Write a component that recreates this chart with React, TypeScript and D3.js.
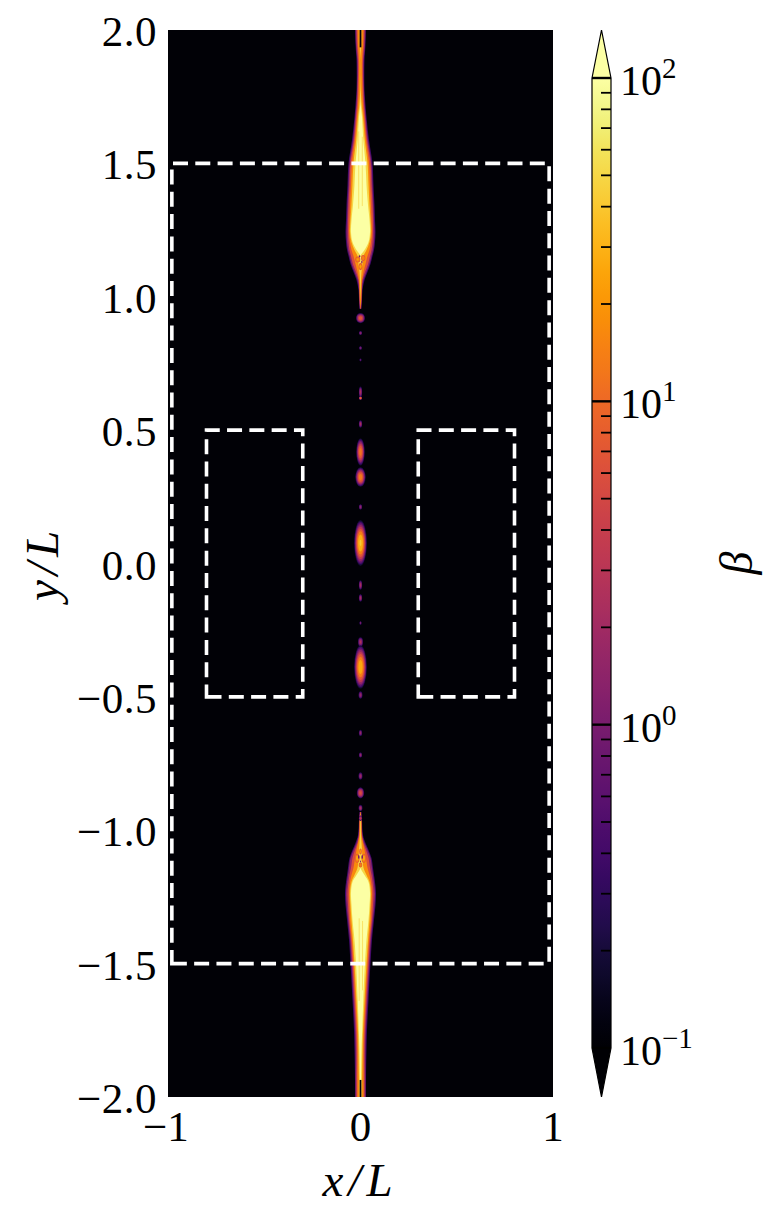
import React from 'react';
import * as d3 from 'd3';

const W = 767;
const H = 1217;

// axis ticks
const yTicks = [2.0, 1.5, 1.0, 0.5, 0.0, -0.5, -1.0, -1.5, -2.0];
const xTicks = [-1, 0, 1];
const cbMajor = [0.1, 1, 10, 100];
const cbExp = ['−1', '0', '1', '2'];
const cbMinorMult = [2, 3, 4, 5, 6, 7, 8, 9];
const cbMinorDecades = [-1, 0, 1];

// dashed regions [x0, y0, x1, y1]
const outerRegions = [[-0.98, -1.5, 0.98, 1.5]];
const innerRegions = [
  [-0.8, -0.5, -0.3, 0.5],
  [0.3, -0.5, 0.8, 0.5],
];

// jet contour levels (beta) and the representative beta of each band
const jetLevels = [0.2, 0.7, 3, 12, 40, 100];
const jetBandBeta = [0.4, 1.6, 6, 17, 50, 150];
// [y, half-width (x/L) where beta >= each level]
const jetUpper = [
  [2.03, 0.0286, 0.026, 0.0208, 0.0156, 0.0052, 0],
  [1.944, 0.026, 0.0234, 0.0182, 0.013, 0.0031, 0],
  [1.888, 0.0208, 0.0171, 0.013, 0.0078, 0, 0],
  [1.775, 0.0208, 0.0182, 0.0145, 0.0094, 0.0016, 0],
  [1.719, 0.026, 0.0223, 0.0182, 0.013, 0.0062, 0.0016],
  [1.674, 0.0312, 0.0275, 0.0234, 0.0182, 0.013, 0.0078],
  [1.588, 0.0442, 0.039, 0.0338, 0.0286, 0.0223, 0.0145],
  [1.501, 0.0623, 0.0571, 0.052, 0.0442, 0.0364, 0.026],
  [1.419, 0.0675, 0.0623, 0.0571, 0.0494, 0.0416, 0.0312],
  [1.344, 0.0727, 0.0675, 0.0623, 0.0545, 0.0468, 0.039],
  [1.288, 0.0753, 0.0701, 0.0649, 0.0571, 0.052, 0.0468],
  [1.243, 0.0779, 0.0727, 0.0649, 0.0597, 0.0545, 0.0494],
  [1.205, 0.0753, 0.0701, 0.0623, 0.0545, 0.0468, 0.0416],
  [1.175, 0.0701, 0.0649, 0.0571, 0.0468, 0.0312, 0.0208],
  [1.153, 0.0623, 0.0571, 0.0494, 0.0364, 0.0156, 0],
  [1.123, 0.052, 0.0468, 0.039, 0.026, 0.0104, 0],
  [1.093, 0.0364, 0.0312, 0.0234, 0.0156, 0.0052, 0],
  [1.063, 0.0208, 0.0156, 0.0104, 0.0078, 0.0026, 0],
  [1.025, 0.0104, 0.0078, 0.0062, 0.0052, 0.0016, 0],
  [0.988, 0.0078, 0.0062, 0.0052, 0.0031, 0, 0],
  [0.955, 0.0052, 0.0036, 0.0016, 0, 0, 0],
];
const jetLower = [
  [-2.03, 0.0286, 0.026, 0.0208, 0.0156, 0.0052, 0],
  [-1.936, 0.0286, 0.026, 0.0208, 0.0156, 0.0078, 0.0026],
  [-1.824, 0.0312, 0.026, 0.0208, 0.0156, 0.0104, 0.0052],
  [-1.749, 0.0338, 0.0286, 0.0234, 0.0182, 0.013, 0.0088],
  [-1.636, 0.0416, 0.0364, 0.0312, 0.026, 0.0208, 0.0145],
  [-1.498, 0.052, 0.0468, 0.0416, 0.0364, 0.0312, 0.0234],
  [-1.411, 0.0597, 0.0545, 0.0494, 0.0442, 0.039, 0.0312],
  [-1.336, 0.0701, 0.0649, 0.0597, 0.0545, 0.0468, 0.0416],
  [-1.28, 0.0779, 0.0727, 0.0649, 0.0571, 0.052, 0.0468],
  [-1.235, 0.0805, 0.0753, 0.0675, 0.0597, 0.0545, 0.0494],
  [-1.194, 0.0753, 0.0701, 0.0623, 0.0545, 0.0468, 0.0416],
  [-1.168, 0.0701, 0.0649, 0.0571, 0.0468, 0.0312, 0.0208],
  [-1.141, 0.0649, 0.0597, 0.0494, 0.0364, 0.0156, 0],
  [-1.104, 0.0571, 0.052, 0.0416, 0.0286, 0.0104, 0],
  [-1.074, 0.0416, 0.0364, 0.0286, 0.0208, 0.0078, 0],
  [-1.048, 0.026, 0.0208, 0.0156, 0.013, 0.0052, 0],
  [-1.018, 0.013, 0.0104, 0.0078, 0.0062, 0.0026, 0],
  [-0.962, 0.0078, 0.0062, 0.0052, 0.0042, 0.0016, 0],
  [-0.932, 0.0052, 0.0036, 0.0016, 0, 0, 0],
];
// dark central gaps at the jet ends [y0, y1, halfWidth]
const centralGaps = [
  [1.935, 2.03, 0.0045],
  [-2.03, -1.936, 0.0045],
];
// streaks inside the jet cores [x, y0, y1, halfWidth, beta]
const coreStreaks = [
  [-0.009, 1.33, 1.62, 0.0022, 45],
  [0.009, 1.34, 1.6, 0.0022, 45],
  [-0.007, -1.64, -1.33, 0.0022, 45],
  [0.011, -1.6, -1.34, 0.0022, 45],
];

// knots: [x, y, rx, ry, peak beta, surrounding beta]
const knots = [
  [-0.014, 1.14, 0.014, 0.012, 25, 4],
  [0.014, 1.145, 0.012, 0.012, 20, 4],
  [0.0, 1.113, 0.01, 0.014, 30, 4],
  [0.0, 0.92, 0.025, 0.02, 9, 0.1],
  [0.0, 0.864, 0.009, 0.008, 2, 0.1],
  [0.0, 0.808, 0.008, 0.0075, 1.5, 0.1],
  [0.0, 0.763, 0.006, 0.006, 1, 0.1],
  [0.0, 0.643, 0.009, 0.022, 3, 0.1],
  [0.0, 0.62, 0.009, 0.007, 20, 0.1],
  [0.0, 0.523, 0.009, 0.015, 3, 0.1],
  [0.0, 0.418, 0.023, 0.053, 14, 0.1],
  [0.0, 0.324, 0.028, 0.038, 16, 0.1],
  [0.0, 0.212, 0.009, 0.011, 2, 0.1],
  [0.0, 0.077, 0.034, 0.088, 45, 0.1],
  [0.0, -0.081, 0.009, 0.019, 3, 0.1],
  [0.0, -0.129, 0.009, 0.015, 3, 0.1],
  [0.0, -0.223, 0.006, 0.0075, 1.5, 0.1],
  [0.0, -0.294, 0.014, 0.019, 3, 0.1],
  [0.0, -0.388, 0.034, 0.084, 35, 0.1],
  [0.0, -0.493, 0.011, 0.015, 2, 0.1],
  [0.0, -0.635, 0.009, 0.013, 2, 0.1],
  [0.0, -0.718, 0.009, 0.011, 2, 0.1],
  [0.0, -0.797, 0.011, 0.015, 2.5, 0.1],
  [0.0, -0.86, 0.02, 0.022, 7, 0.1],
  [0.0, -0.917, 0.011, 0.013, 3, 0.1],
  [0.0, -0.955, 0.009, 0.011, 5, 0.1],
  [-0.017, -1.105, 0.012, 0.018, 35, 4],
  [0.017, -1.105, 0.012, 0.018, 35, 4],
  [0.0, -1.13, 0.01, 0.01, 20, 4],
  [0.0, -1.08, 0.007, 0.012, 25, 4],
];
// darker spots in the turbulent heads: [x, y, rx, ry, beta]
const holes = [
  [-0.005, 1.152, 0.004, 0.004, 0.8],
  [0.007, 1.13, 0.0035, 0.005, 1.2],
  [-0.009, -1.1, 0.004, 0.007, 0.9],
  [0.009, -1.1, 0.004, 0.007, 0.9],
  [0.0, -1.117, 0.003, 0.004, 1.5],
];
const knotLevels = [0.15, 0.3, 0.6, 1.2, 2.5, 5, 10, 20, 40, 100];

const FONT = "'Liberation Serif', 'DejaVu Serif', serif";

export default function App() {
  const x = d3.scaleLinear().domain([-1, 1]).range([168, 553]);
  const y = d3.scaleLinear().domain([-2, 2]).range([1097, 30]);
  const cb = d3.scaleLog().domain([0.1, 100]).range([1048, 78]);
  const cbX0 = 592;
  const cbX1 = 611;
  const cbXm = (cbX0 + cbX1) / 2;

  const color = (v: number) =>
    v >= 100
      ? d3.interpolateInferno(1)
      : d3.interpolateInferno(Math.max(0, (Math.log10(v) + 1) / 3));

  const areaFor = (k: number) =>
    d3
      .area<number[]>()
      .y((d) => y(d[0]))
      .x0((d) => x(-d[k]))
      .x1((d) => x(d[k]))
      .curve(d3.curveCatmullRom.alpha(0.5));

  const regionPath = (r: number[]) => {
    const [x0, y0, x1, y1] = r;
    const p = d3.path();
    p.moveTo(x(x0), y(y0));
    p.lineTo(x(x1), y(y0));
    p.lineTo(x(x1), y(y1));
    p.lineTo(x(x0), y(y1));
    p.closePath();
    return p.toString();
  };

  const gradStops = d3.range(0, 1.0001, 0.025);

  const plotX0 = x(-1);
  const plotX1 = x(1);
  const plotY0 = y(2);
  const plotY1 = y(-2);

  const ex = (v: number) => x(v) - x(0);
  const ey = (v: number) => y(0) - y(v);

  return (
    <svg
      width={W}
      height={H}
      style={{ position: 'absolute', left: 0, top: 0, background: '#fff' }}
      fontFamily={FONT}
    >
      <defs>
        <clipPath id="plotClip">
          <rect x={plotX0} y={plotY0} width={plotX1 - plotX0} height={plotY1 - plotY0} />
        </clipPath>
        <linearGradient id="cbGrad" x1="0" y1="1" x2="0" y2="0">
          {gradStops.map((t, i) => (
            <stop key={i} offset={t} stopColor={d3.interpolateInferno(t)} />
          ))}
        </linearGradient>
      </defs>

      {/* heatmap */}
      <g clipPath="url(#plotClip)">
        <rect x={plotX0} y={plotY0} width={plotX1 - plotX0} height={plotY1 - plotY0} fill={d3.interpolateInferno(0.01)} />
        {[jetUpper, jetLower].map((jet, ji) => (
          <g key={ji}>
            {jetLevels.map((_, li) => (
              <path key={li} d={areaFor(li + 1)(jet) || ''} fill={color(jetBandBeta[li])} />
            ))}
          </g>
        ))}
        {coreStreaks.map(([sx, a, b, w, v], i) => (
          <rect key={i} x={x(sx - w)} y={y(b)} width={ex(2 * w)} height={y(a) - y(b)} fill={color(v)} opacity={0.7} />
        ))}
        {centralGaps.map(([a, b, w], i) => (
          <rect key={i} x={x(-w)} y={y(b)} width={x(w) - x(-w)} height={y(a) - y(b)} fill={d3.interpolateInferno(0.02)} />
        ))}
        {knots.map(([kx, ky, rx, ry, peak, base], i) => {
          const levels = knotLevels.filter((L) => L < peak && L >= base);
          return (
            <g key={i}>
              {levels.map((L, j) => {
                const f = Math.sqrt(Math.log(peak / L) / Math.log(peak / Math.max(base, 0.1)));
                const next = j + 1 < levels.length ? levels[j + 1] : peak;
                return (
                  <ellipse
                    key={j}
                    cx={x(kx)}
                    cy={y(ky)}
                    rx={ex(rx) * f}
                    ry={ey(ry) * f}
                    fill={color(Math.sqrt(L * next))}
                  />
                );
              })}
            </g>
          );
        })}
        {holes.map(([hx, hy, rx, ry, v], i) => (
          <ellipse key={i} cx={x(hx)} cy={y(hy)} rx={ex(rx)} ry={ey(ry)} fill={color(v)} />
        ))}
        {/* dashed regions */}
        {[...outerRegions, ...innerRegions].map((r, i) => (
          <path key={i} d={regionPath(r)} fill="none" stroke="#fff" strokeWidth={3.6} strokeDasharray="15 7.3" />
        ))}
      </g>

      {/* y tick labels */}
      {yTicks.map((v) => (
        <text key={v} x={plotX0 - 11} y={y(v) + 16} textAnchor="end" fontSize={43} letterSpacing={0.5} fill="#000">
          {v < 0 ? '−' + Math.abs(v).toFixed(1) : v.toFixed(1)}
        </text>
      ))}
      {/* x tick labels */}
      {xTicks.map((v) => (
        <text key={v} x={x(v) - (v < 0 ? 2 : 0)} y={1141} textAnchor="middle" fontSize={43} fill="#000">
          {v < 0 ? '−' + Math.abs(v) : String(v)}
        </text>
      ))}
      {/* axis labels */}
      <text x={360} y={1196} textAnchor="middle" fontSize={47} fontStyle="italic" letterSpacing={5} fill="#000">
        x/L
      </text>
      <text
        transform={`translate(58, ${(plotY0 + plotY1) / 2}) rotate(-90)`}
        textAnchor="middle"
        fontSize={47}
        fontStyle="italic"
        letterSpacing={5}
        fill="#000"
      >
        y/L
      </text>

      {/* colorbar */}
      <rect x={cbX0} y={cb(100)} width={cbX1 - cbX0} height={cb(0.1) - cb(100)} fill="url(#cbGrad)" />
      <path d={`M${cbX0},${cb(100)} L${cbXm},30 L${cbX1},${cb(100)} Z`} fill={d3.interpolateInferno(1)} />
      <path d={`M${cbX0},${cb(0.1)} L${cbXm},1097 L${cbX1},${cb(0.1)} Z`} fill={d3.interpolateInferno(0)} />
      {cbMinorDecades.flatMap((dec) =>
        cbMinorMult.map((m) => {
          const v = m * Math.pow(10, dec);
          return <line key={`${dec}-${m}`} x1={cbX1 - 10} x2={cbX1} y1={cb(v)} y2={cb(v)} stroke="#000" strokeWidth={1.8} />;
        })
      )}
      {cbMajor.map((v) => (
        <line key={v} x1={cbX0} x2={cbX1} y1={cb(v)} y2={cb(v)} stroke="#000" strokeWidth={2.4} />
      ))}
      <path
        d={`M${cbX0},${cb(100)} L${cbXm},30 L${cbX1},${cb(100)} L${cbX1},${cb(0.1)} L${cbXm},1097 L${cbX0},${cb(0.1)} Z`}
        fill="none"
        stroke="#000"
        strokeWidth={1.2}
      />
      {cbMajor.map((v, i) => (
        <text key={v} x={620} y={cb(v) + 17} fontSize={42} fill="#000">
          10
          <tspan dy={-17} fontSize={29}>
            {cbExp[i]}
          </tspan>
        </text>
      ))}
      <text
        transform={`translate(752, ${(cb(0.1) + cb(100)) / 2}) rotate(-90)`}
        textAnchor="middle"
        fontSize={46}
        fontStyle="italic"
        fill="#000"
      >
        β
      </text>
    </svg>
  );
}
